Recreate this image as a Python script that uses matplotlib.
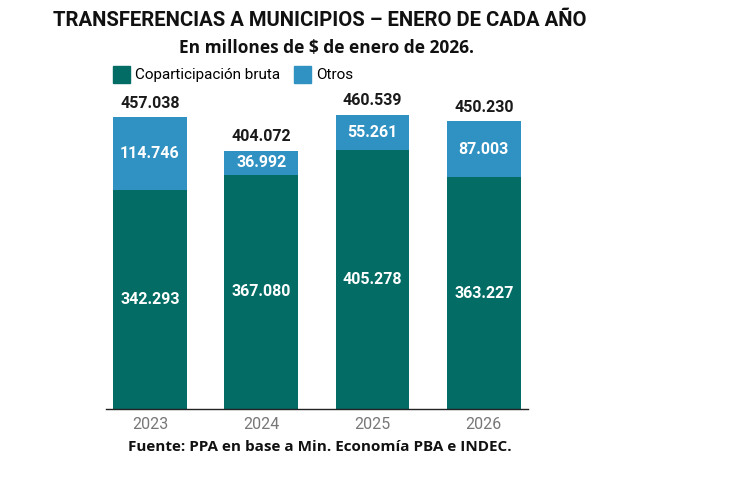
import numpy as np
import matplotlib.pyplot as plt
from matplotlib.patches import Patch

plt.rcParams['font.family'] = ['Roboto', 'DejaVu Sans']

years = ['2023', '2024', '2025', '2026']
copart = [342.293, 367.080, 405.278, 363.227]
otros = [114.746, 36.992, 55.261, 87.003]
totales = [457.038, 404.072, 460.539, 450.230]

c_copart = '#036c64'
c_otros = '#3092c2'

fig = plt.figure(figsize=(7.31, 4.79), dpi=100)
ax = fig.add_axes([0.145, 0.146, 0.577, 0.667])

x = np.arange(len(years))
w = 0.664
ax.bar(x, copart, width=w, color=c_copart)
ax.bar(x, otros, width=w, bottom=copart, color=c_otros)

fmt = lambda v: f"{v:.3f}"
for i in range(len(years)):
    ax.text(x[i], copart[i] / 2, fmt(copart[i]), ha='center', va='center',
            color='white', fontsize=11.5, fontweight='bold')
    ax.text(x[i], copart[i] + otros[i] / 2, fmt(otros[i]), ha='center', va='center',
            color='white', fontsize=11.5, fontweight='bold')
    ax.text(x[i], totales[i] + 10, fmt(totales[i]), ha='center', va='bottom',
            color='#1a1a1a', fontsize=11.5, fontweight='bold')

ax.set_xlim(-0.395, 3.395)
ax.set_ylim(0, 500)
ax.set_xticks(x)
ax.set_xticklabels(years, fontsize=11.5, color='#777777')
ax.tick_params(axis='x', length=0, pad=6)
ax.set_yticks([])
for s in ['top', 'right', 'left']:
    ax.spines[s].set_visible(False)
ax.spines['bottom'].set_color('#222222')
ax.spines['bottom'].set_linewidth(1.0)

fig.text(0.437, 0.958, 'TRANSFERENCIAS A MUNICIPIOS – ENERO DE CADA AÑO',
         ha='center', va='center', fontsize=14.6, fontweight='bold', color='#111111')
fig.text(0.447, 0.900, 'En millones de $ de enero de 2026.',
         ha='center', va='center', fontsize=12.5, fontweight='bold', color='#111111',
         family=['Open Sans', 'DejaVu Sans'])

handles = [Patch(color=c_copart, label='Coparticipación bruta'),
           Patch(color=c_otros, label='Otros')]
fig.legend(handles=handles, loc='center left', bbox_to_anchor=(0.154, 0.845),
           ncol=2, frameon=False, fontsize=11, handlelength=1.15, handleheight=1.3,
           handletextpad=0.35, columnspacing=0.85, borderaxespad=0, borderpad=0)

fig.text(0.437, 0.066, 'Fuente: PPA en base a Min. Economía PBA e INDEC.',
         ha='center', va='center', fontsize=11, fontweight='bold', color='#111111',
         family=['Open Sans', 'DejaVu Sans'])

fig.savefig('out.png', dpi=100)
